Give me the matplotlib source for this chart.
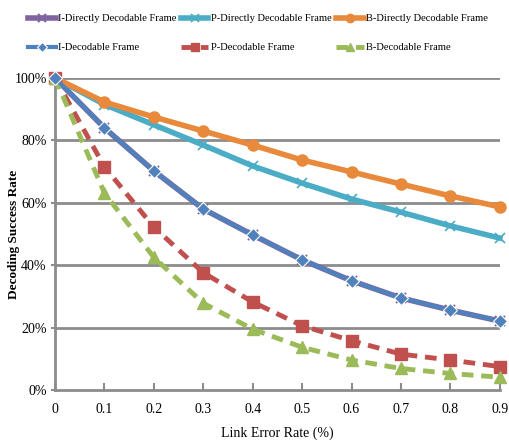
import numpy as np
import matplotlib
matplotlib.use("Agg")
import matplotlib.pyplot as plt
from matplotlib.ticker import PercentFormatter

# link error rate (%)
x = [0, 0.1, 0.2, 0.3, 0.4, 0.5, 0.6, 0.7, 0.8, 0.9]

# decoding success rate (fraction)
i_direct = [1.00, 0.84, 0.702, 0.58, 0.497, 0.417, 0.35, 0.295, 0.256, 0.221]
p_direct = [1.00, 0.915, 0.85, 0.785, 0.718, 0.663, 0.612, 0.57, 0.526, 0.487]
b_direct = [1.00, 0.923, 0.875, 0.83, 0.785, 0.737, 0.699, 0.66, 0.622, 0.587]
i_dec = [1.00, 0.84, 0.702, 0.58, 0.497, 0.417, 0.35, 0.295, 0.256, 0.221]
p_dec = [1.00, 0.715, 0.522, 0.376, 0.282, 0.206, 0.158, 0.115, 0.096, 0.075]
b_dec = [1.00, 0.631, 0.425, 0.278, 0.195, 0.137, 0.096, 0.069, 0.053, 0.041]

labels = ['I-Directly Decodable Frame', 'P-Directly Decodable Frame',
          'B-Directly Decodable Frame', 'I-Decodable Frame',
          'P-Decodable Frame', 'B-Decodable Frame']

plt.rcParams['font.family'] = ['Liberation Serif', 'DejaVu Serif']

fig = plt.figure(figsize=(5.1, 4.44), dpi=100)
ax = fig.add_axes([0.108, 0.1216, 0.872, 0.7027])

GRID = '#8c8c8c'
for yv in [0.2, 0.4, 0.6, 0.8, 1.0]:
    ax.axhline(yv, color=GRID, lw=2, zorder=1)

h1, = ax.plot(x, i_direct, color='#8064A2', lw=4, marker='x', ms=7, mew=1.5,
              mec='#8064A2', zorder=3, clip_on=False)
h2, = ax.plot(x, p_direct, color='#4BACC6', lw=4, marker='x', ms=7, mew=1.2,
              mec='#4BACC6', mfc='white', zorder=3, clip_on=False)
h3, = ax.plot(x, b_direct, color='#E8893B', lw=4, marker='o', ms=8,
              zorder=3, clip_on=False)
h4, = ax.plot(x, i_dec, color='#4F81BD', lw=3, marker='D', ms=7,
              mec='white', mew=0.8, zorder=5, clip_on=False)
h5, = ax.plot(x, p_dec, color='#C0504D', lw=3.5, ls=(0, (2.4, 1.6)),
              marker='s', ms=8, zorder=3, clip_on=False)
h6, = ax.plot(x, b_dec, color='#9BBB59', lw=3.5, ls=(0, (2.4, 1.6)),
              marker='^', ms=8, zorder=3, clip_on=False)

ax.set_xlim(0, 0.9)
ax.set_ylim(0, 1.0)
ax.set_xticks(x)
ax.set_xticklabels(['0', '0.1', '0.2', '0.3', '0.4', '0.5', '0.6', '0.7', '0.8', '0.9'])
ax.set_yticks([0, 0.2, 0.4, 0.6, 0.8, 1.0])
ax.yaxis.set_major_formatter(PercentFormatter(1.0, decimals=0))
ax.tick_params(axis='x', direction='in', length=5, width=1.5, color=GRID,
               labelsize=10, pad=9)
ax.tick_params(axis='y', direction='out', length=3, width=1.5, color=GRID,
               labelsize=10, pad=3)

for s in ['top', 'right']:
    ax.spines[s].set_visible(False)
for s in ['left', 'bottom']:
    ax.spines[s].set_color(GRID)
    ax.spines[s].set_linewidth(2)

ax.set_xlabel('Link Error Rate (%)', fontsize=10)
ax.xaxis.set_label_coords(0.5, -0.118)
ax.set_ylabel('Decoding Success Rate', fontsize=9.5, fontweight='bold')
ax.yaxis.set_label_coords(-0.08, 0.5)

handles = [h1, h4, h2, h5, h3, h6]
names = [labels[0], labels[3], labels[1], labels[4], labels[2], labels[5]]
leg = fig.legend(handles, names, loc='upper left', bbox_to_anchor=(0.037, 0.99),
                 ncol=3, frameon=False, fontsize=7.6, handlelength=2.6,
                 handletextpad=0.25, columnspacing=0.4, labelspacing=1.85,
                 markerscale=0.75, borderaxespad=0.5)

plt.savefig('out.png', dpi=100)
